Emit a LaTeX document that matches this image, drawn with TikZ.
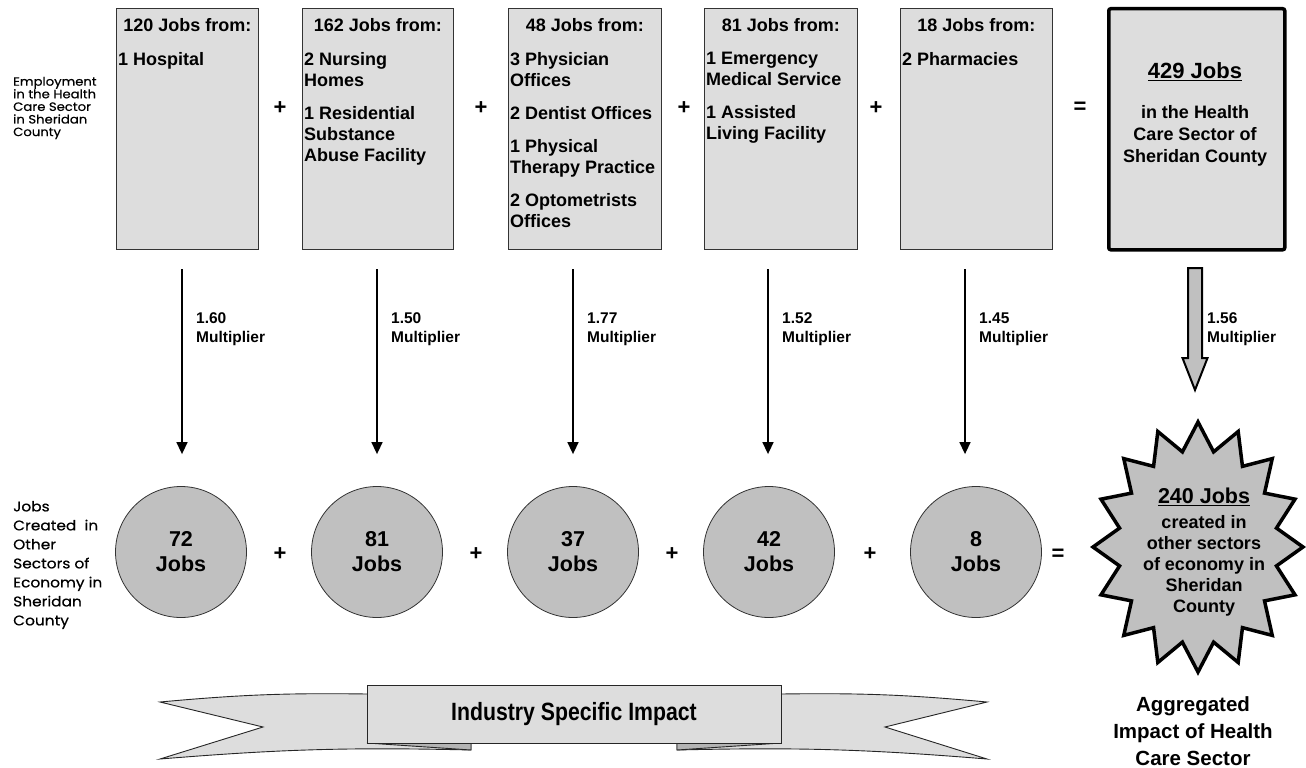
\documentclass[tikz,border=0pt]{standalone}
\usepackage{fontspec}
\setmainfont{Liberation Sans}
\newfontfamily\gothic[FakeStretch=1.1,FakeBold=0.5]{Poppins}
\usetikzlibrary{arrows.meta}
\definecolor{boxgray}{HTML}{DDDDDD}
\definecolor{jobgray}{HTML}{C0C0C0}
\definecolor{foldgray}{HTML}{B4B4B4}
\newcommand{\setfs}[2]{\fontsize{#1}{#2}\selectfont}

\begin{document}
\begin{tikzpicture}[x=1pt,y=-1pt]

\tikzset{sector/.style = {shape=rectangle,draw=black!80,fill=boxgray,line width=0.8pt,minimum height=241pt,anchor=north west,inner sep=0pt}}
\tikzset{head/.style = {anchor=base,inner sep=0pt,font=\bfseries\setfs{18}{21}}}
\tikzset{body/.style = {anchor=north west,align=left,inner sep=0pt,font=\bfseries\setfs{18}{21}}}
\tikzset{total/.style = {shape=rectangle,draw=black,fill=boxgray,line width=3.5pt,rounded corners=2pt,minimum width=176pt,minimum height=241pt,anchor=north west}}
\tikzset{job/.style = {shape=circle,draw=black!80,fill=jobgray,line width=0.8pt,minimum size=131pt,inner sep=0pt,align=center,font=\bfseries\setfs{21.5}{25}}}
\tikzset{op/.style = {inner sep=0pt,font=\bfseries\setfs{22}{22}}}
\tikzset{factor/.style = {anchor=north west,align=left,inner sep=0pt,font=\bfseries\setfs{15.5}{19}}}
\tikzset{side/.style = {anchor=west,align=left,inner sep=0pt}}
\tikzset{mult/.style = {-{Triangle[width=11pt,length=12pt]},line width=1.5pt}}
\tikzset{fat/.style = {draw=black,fill=jobgray,line width=2pt,line join=miter}}
\tikzset{burst/.style = {draw=black,fill=jobgray,line width=3.5pt}}
\tikzset{ribbon/.style = {draw=black!85,fill=boxgray,line width=0.9pt}}
\tikzset{fold/.style = {draw=black!85,fill=foldgray,line width=0.9pt}}

\useasboundingbox (0,0) rectangle (1306,768);

% row labels
\node[side,font=\gothic\setfs{12}{12.6}] (toplabel) at (13,108) {Employment\\in the Health\\Care Sector\\in Sheridan\\County};
\node[side,font=\gothic\setfs{14}{19}] (botlabel) at (13,565) {Jobs\\Created\ \ in\\Other\\Sectors of\\Economy in\\Sheridan\\County};

% sector boxes
\node[sector,minimum width=142pt] (hospital) at (116,8) {};
\node[sector,minimum width=151pt] (nursing) at (302,8) {};
\node[sector,minimum width=153pt] (physician) at (508,8) {};
\node[sector,minimum width=153pt] (emergency) at (704,8) {};
\node[sector,minimum width=152pt] (pharmacy) at (900,8) {};
\node[total] (sum) at (1107,7) {};

\node[head] (hospital-t) at (hospital.north |- 0,32) {120 Jobs from:};
\node[head] (nursing-t) at (nursing.north |- 0,32) {162 Jobs from:};
\node[head] (physician-t) at (physician.north |- 0,32) {48 Jobs from:};
\node[head] (emergency-t) at (emergency.north |- 0,32) {81 Jobs from:};
\node[head] (pharmacy-t) at (pharmacy.north |- 0,32) {18 Jobs from:};

\node[body] (hospital-b) at (118,52) {1 Hospital};
\node[body] (nursing-b) at (304,52) {2 Nursing\\Homes\\[12pt]1 Residential\\Substance\\Abuse Facility};
\node[body] (physician-b) at (510,52) {3 Physician\\Offices\\[12pt]2 Dentist Offices\\[12pt]1 Physical\\Therapy Practice\\[12pt]2 Optometrists\\Offices};
\node[body] (emergency-b) at (706,52) {1 Emergency\\Medical Service\\[12pt]1 Assisted\\Living Facility};
\node[body] (pharmacy-b) at (902,52) {2 Pharmacies};

\node[anchor=north,align=center,inner sep=0pt,font=\bfseries\setfs{18}{22}] (sum-t) at (1195,62)
  {{\setfs{22}{26}\underline{429 Jobs}}\\[18pt]in the Health\\Care Sector of\\Sheridan County};

\node[op] (plus1) at (280,108) {+};
\node[op] (plus2) at (481,108) {+};
\node[op] (plus3) at (684,108) {+};
\node[op] (plus4) at (876,108) {+};
\node[op] (equal1) at (1080,108) {=};

% jobs created
\node[job] (c1) at (181,552) {72\\Jobs};
\node[job] (c2) at (377,552) {81\\Jobs};
\node[job] (c3) at (573,552) {37\\Jobs};
\node[job] (c4) at (769,552) {42\\Jobs};
\node[job] (c5) at (976,552) {8\\Jobs};

\node[op] (plus5) at (280,554) {+};
\node[op] (plus6) at (476,554) {+};
\node[op] (plus7) at (672,554) {+};
\node[op] (plus8) at (870,554) {+};
\node[op] (equal2) at (1058,555) {=};

% multipliers
\coordinate (m1) at (182,269);
\coordinate (m2) at (377,269);
\coordinate (m3) at (573,269);
\coordinate (m4) at (768,269);
\coordinate (m5) at (965,269);
\draw[mult,shorten >=32pt] (m1) -- (m1 |- c1.north);
\draw[mult,shorten >=32pt] (m2) -- (m2 |- c2.north);
\draw[mult,shorten >=32pt] (m3) -- (m3 |- c3.north);
\draw[mult,shorten >=32pt] (m4) -- (m4 |- c4.north);
\draw[mult,shorten >=32pt] (m5) -- (m5 |- c5.north);

\node[factor] (f1) at (196,312.5) {1.60\\Multiplier};
\node[factor] (f2) at (391,312.5) {1.50\\Multiplier};
\node[factor] (f3) at (587,312.5) {1.77\\Multiplier};
\node[factor] (f4) at (782,312.5) {1.52\\Multiplier};
\node[factor] (f5) at (979,312.5) {1.45\\Multiplier};
\node[factor] (f6) at (1207,312.5) {1.56\\Multiplier};

% aggregate
\coordinate (fattop) at (1195,268);
\draw[fat] (fattop) ++(-7,0) -- ++(14,0) -- ++(0,90) -- ++(5.5,0) -- ++(-12.5,32) -- ++(-12.5,-32) -- ++(5.5,0) -- cycle;

\draw[burst] plot[samples at={0,...,31},variable=\t]
  ({1198+ifthenelse(mod(\t,2)==0,105,80)*cos(\t*11.25)},{547-ifthenelse(mod(\t,2)==0,125,97)*sin(\t*11.25)}) -- cycle;
\node[anchor=north,align=center,inner sep=0pt,font=\bfseries\setfs{18}{21}] (burst) at (1204,487.5)
  {{\setfs{21.5}{25}\underline{240 Jobs}}\\[4pt]created in\\other sectors\\of economy in\\Sheridan\\County};

\node[anchor=north,align=center,inner sep=0pt,font=\bfseries\setfs{20.5}{27}] (agg) at (1193,696) {Aggregated\\Impact of Health\\Care Sector};

% banner
\draw[ribbon] (400,694) -- (367,694) to[bend right=3] (160,702) -- (263,727) -- (160,759) to[bend left=3] (471,750) -- (471,738) -- cycle;
\draw[ribbon] (748,694) -- (781,694) to[bend left=3] (987,702) -- (885,727) -- (987,759) to[bend right=3] (677,750) -- (677,738) -- cycle;
\draw[fold] (367,743) -- (471,750) -- (471,743) -- cycle;
\draw[fold] (781,743) -- (677,750) -- (677,743) -- cycle;
\node[ribbon,shape=rectangle,minimum width=414pt,minimum height=58pt,inner sep=0pt,font=\bfseries\setfs{25}{25}] (impact) at (574,714) {\scalebox{0.85}[1]{Industry Specific Impact}};

\end{tikzpicture}
\end{document}
